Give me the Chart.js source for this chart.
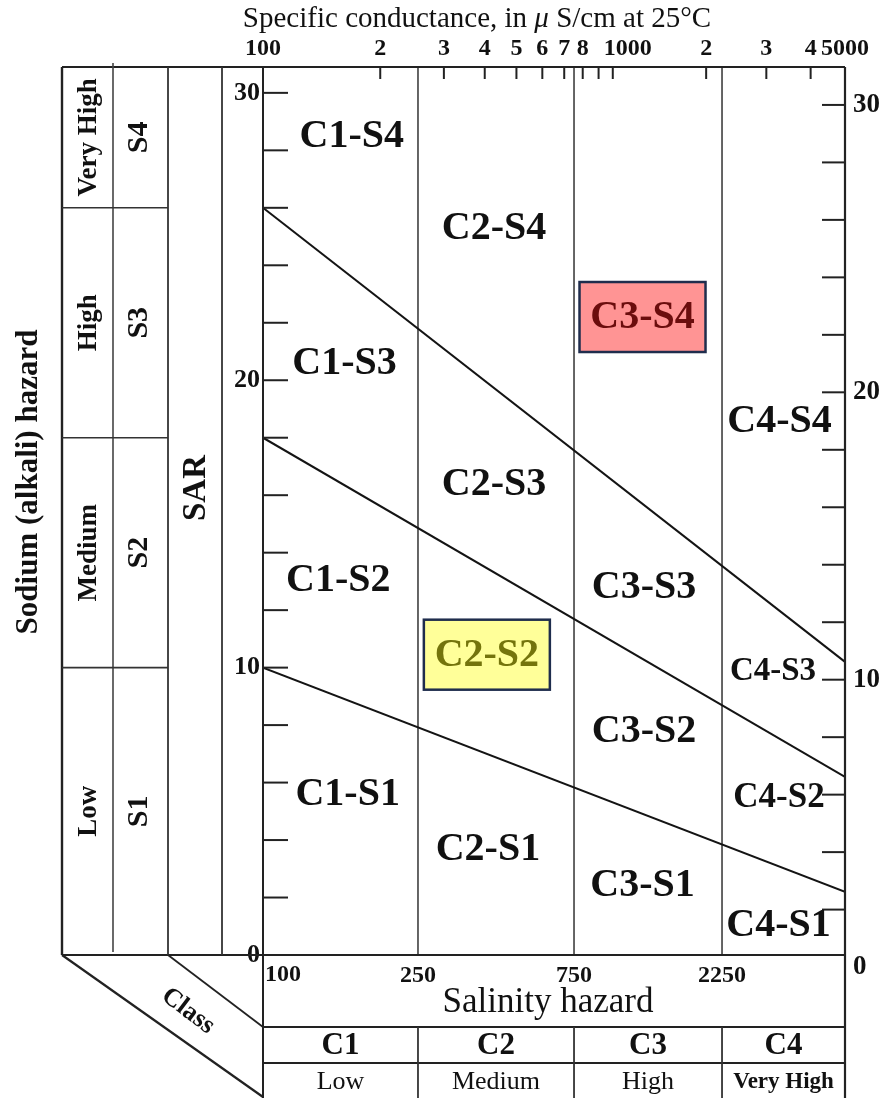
<!DOCTYPE html>
<html>
<head>
<meta charset="utf-8">
<title>Salinity / sodium hazard diagram</title>
<script src="https://cdn.jsdelivr.net/npm/chart.js@4.4.1/dist/chart.umd.min.js"></script>
<style>
  html, body { margin: 0; padding: 0; background: #fff; }
  canvas { display: block; }
</style>
</head>
<body>
<canvas id="wilcox" width="889" height="1098"></canvas>
<script>
// specific conductance ticks along the top edge (uS/cm at 25C)
const ecTicks = [100, 200, 300, 400, 500, 600, 700, 800, 900, 1000, 2000, 3000, 4000, 5000];
// the 1000 label sits a little right of its tick in the original, hence the padding
const ecTickLabels = ['100', '2', '3', '4', '5', '6', '7', '8', '', '\u00a0\u00a0\u00a0\u00a0\u00a01000', '2', '3', '4', '5000'];

// salinity classes, split at these conductances
const classLimits = [250, 750, 2250];
const salinityClasses = ['C1', 'C2', 'C3', 'C4'];
const salinityNames = ['Low', 'Medium', 'High', 'Very High'];

// sodium class boundaries, SAR at 100 and at 5000 uS/cm
const sarAt100 = [10, 18, 26];
const sarAt5000 = [2.2, 6.2, 10.2];
const sodiumClasses = ['S1', 'S2', 'S3', 'S4'];
const sodiumNames = ['Low', 'Medium', 'High', 'Very High'];

const sarTicks = [0, 2, 4, 6, 8, 10, 12, 14, 16, 18, 20, 22, 24, 26, 28, 30];

// zone names, placed at (conductance, SAR)
const zoneNames = ['C1-S4', 'C2-S4', 'C3-S4', 'C1-S3', 'C4-S4', 'C2-S3', 'C1-S2', 'C3-S3',
                   'C2-S2', 'C4-S3', 'C3-S2', 'C1-S1', 'C4-S2', 'C2-S1', 'C3-S1', 'C4-S1'];
const zoneEC  = [169, 427, 1247, 162, 3268, 427, 156, 1261, 406, 3133, 1261, 165, 3257, 409, 1247, 3246];
const zoneSAR = [28.5, 25.3, 22.2, 20.6, 18.6, 16.4, 13.05, 12.8, 10.45, 9.9, 7.8, 5.6, 5.5, 3.7, 2.45, 1.05];

const SERIF = '"Liberation Serif", "Times New Roman", serif';

// the printed conductance axis is not a clean log axis: each class
// column is log-spaced inside, the columns are nearly equal width
const knotFrac = [0, 0.2663, 0.5344, 0.7887, 1];

class SalinityScale extends Chart.LogarithmicScale {
  knots() { return [this.min].concat(classLimits, [this.max]); }
  getPixelForValue(value) {
    if (value === null || isNaN(value)) return NaN;
    const k = this.knots();
    const v = Math.min(Math.max(value, k[0]), k[k.length - 1]);
    let i = 0;
    while (i < k.length - 2 && v > k[i + 1]) i++;
    const t = Math.log(v / k[i]) / Math.log(k[i + 1] / k[i]);
    return this.getPixelForDecimal(knotFrac[i] + t * (knotFrac[i + 1] - knotFrac[i]));
  }
  getValueForPixel(pixel) {
    const k = this.knots();
    const d = this.getDecimalForPixel(pixel);
    let i = 0;
    while (i < knotFrac.length - 2 && d > knotFrac[i + 1]) i++;
    const t = (d - knotFrac[i]) / (knotFrac[i + 1] - knotFrac[i]);
    return k[i] * Math.pow(k[i + 1] / k[i], t);
  }
}
SalinityScale.id = 'salinity';
SalinityScale.defaults = Chart.LogarithmicScale.defaults;
Chart.register(SalinityScale);

const datasets = [];
for (let i = 0; i < sarAt100.length; i++) {
  datasets.push({
    data: [{ x: 100, y: sarAt100[i] }, { x: 5000, y: sarAt5000[i] }],
    borderColor: '#141414', borderWidth: 2, pointRadius: 0
  });
}
for (let i = 0; i < classLimits.length; i++) {
  datasets.push({
    data: [{ x: classLimits[i], y: 0 }, { x: classLimits[i], y: 30.9 }],
    borderColor: '#555', borderWidth: 1.8, pointRadius: 0
  });
}

function seg(ctx, x1, y1, x2, y2, w, c) {
  ctx.beginPath();
  ctx.lineWidth = w || 2;
  ctx.strokeStyle = c || '#222';
  ctx.moveTo(x1, y1);
  ctx.lineTo(x2, y2);
  ctx.stroke();
}

function text(ctx, s, x, y, font, align, rot) {
  ctx.save();
  ctx.translate(x, y);
  if (rot) ctx.rotate(rot);
  ctx.font = font;
  ctx.textAlign = align || 'center';
  ctx.textBaseline = 'middle';
  ctx.fillText(s, 0, 0);
  ctx.restore();
}

const diagram = {
  id: 'diagram',
  afterDatasetsDraw(chart) {
    const { ctx, chartArea: a, scales: { x, y, y2 } } = chart;
    ctx.save();

    // inward tick marks
    sarTicks.forEach(v => {
      if (v === 0) return;
      const yl = y.getPixelForValue(v);
      seg(ctx, a.left, yl, a.left + 25, yl, 2, '#222');
      const yr = y2.getPixelForValue(v);
      seg(ctx, a.right - 23, yr, a.right, yr, 2, '#222');
    });
    ecTicks.forEach(v => {
      if (v === 100 || v === 5000) return;
      const px = x.getPixelForValue(v);
      seg(ctx, px, a.top, px, a.top + 12, 2, '#222');
    });

    // zone names
    zoneNames.forEach((name, i) => {
      const px = x.getPixelForValue(zoneEC[i]);
      const py = y.getPixelForValue(zoneSAR[i]);
      let size = 40;
      if (name === 'C4-S3') size = 33;
      if (name === 'C4-S2') size = 35;
      ctx.fillStyle = '#111';
      if (name === 'C3-S4' || name === 'C2-S2') {
        ctx.fillStyle = name === 'C3-S4' ? '#ff9494' : '#ffff99';
        ctx.fillRect(px - 63, py - 35, 126, 70);
        ctx.lineWidth = 2.5;
        ctx.strokeStyle = '#1f2d4d';
        ctx.strokeRect(px - 63, py - 35, 126, 70);
        ctx.fillStyle = name === 'C3-S4' ? '#6b0d0d' : '#74740c';
      }
      text(ctx, name, px, py + 1, 'bold ' + size + 'px ' + SERIF);
    });
    ctx.restore();
  },
  afterDraw(chart) {
    const { ctx, chartArea: a, scales: { x, y } } = chart;
    const colX = [62, 113, 168, 222];
    const row1 = 1027, row2 = 1063, bottom = 1098;
    ctx.save();
    ctx.fillStyle = '#111';

    // frame of the plot and the sodium table
    seg(ctx, colX[0], a.top, a.right, a.top, 2.2);
    seg(ctx, colX[0], a.bottom, a.right, a.bottom, 2.2);
    seg(ctx, colX[0], a.top, colX[0], a.bottom, 2.4);
    seg(ctx, colX[1], a.top - 4, colX[1], a.bottom - 3, 1.6, '#444');
    seg(ctx, colX[2], a.top, colX[2], a.bottom, 1.8, '#333');
    seg(ctx, colX[3], a.top, colX[3], a.bottom, 1.8, '#333');
    seg(ctx, a.left, a.top, a.left, bottom, 2);
    seg(ctx, a.right, a.top, a.right, bottom, 2.2);

    // sodium bands
    const bands = [0].concat(sarAt100, [y.max]);
    sarAt100.forEach(v => {
      const py = y.getPixelForValue(v);
      seg(ctx, colX[0], py, colX[2], py, 1.6, '#333');
    });
    for (let i = 0; i < 4; i++) {
      const mid = (y.getPixelForValue(bands[i]) + y.getPixelForValue(bands[i + 1])) / 2;
      text(ctx, sodiumNames[i], 89, mid, 'bold 27px ' + SERIF, 'center', -Math.PI / 2);
      text(ctx, sodiumClasses[i], 139, mid, 'bold 30px ' + SERIF, 'center', -Math.PI / 2);
    }
    text(ctx, 'SAR', 196, 488, 'bold 33px ' + SERIF, 'center', -Math.PI / 2);
    text(ctx, 'Sodium (alkali) hazard', 29, 482, 'bold 31px ' + SERIF, 'center', -Math.PI / 2);

    // slanted "Class" strip
    seg(ctx, colX[0], a.bottom, a.left, bottom - 1, 2.2);
    seg(ctx, colX[2], a.bottom, a.left, row1, 1.8);
    text(ctx, 'Class', 188, 1011, 'bold 26px ' + SERIF, 'center', Math.atan2(72, 95));

    // salinity table under the plot
    seg(ctx, a.left, row1, a.right, row1, 2.2);
    seg(ctx, a.left, row2, a.right, row2, 2.2);
    const edges = [a.left].concat(classLimits.map(v => x.getPixelForValue(v)), [a.right]);
    classLimits.forEach(v => {
      const px = x.getPixelForValue(v);
      seg(ctx, px, row1, px, bottom, 1.8, '#333');
    });
    text(ctx, '100', a.left + 2, 975, 'bold 24px ' + SERIF, 'left');
    classLimits.forEach(v => text(ctx, String(v), x.getPixelForValue(v), 976, 'bold 24px ' + SERIF));
    text(ctx, 'Salinity hazard', 548, 1003, '35px ' + SERIF);
    for (let i = 0; i < 4; i++) {
      const cx = (edges[i] + edges[i + 1]) / 2;
      text(ctx, salinityClasses[i], cx, 1046, 'bold 31px ' + SERIF);
      if (i === 3) text(ctx, salinityNames[i], cx, 1082, 'bold 23px ' + SERIF);
      else text(ctx, salinityNames[i], cx, 1082, '26px ' + SERIF);
    }

    // title over the conductance axis, with an italic mu
    const parts = [['Specific conductance, in ', ''], ['\u03bc', 'italic '], [' S/cm at 25\u00b0C', '']];
    let w = 0;
    parts.forEach(p => { ctx.font = p[1] + '29px ' + SERIF; w += ctx.measureText(p[0]).width; });
    let tx = 477 - w / 2;
    parts.forEach(p => {
      ctx.font = p[1] + '29px ' + SERIF;
      ctx.textAlign = 'left';
      ctx.textBaseline = 'middle';
      ctx.fillText(p[0], tx, 19);
      tx += ctx.measureText(p[0]).width;
    });
    ctx.restore();
  }
};

const tickFont = size => ({ family: SERIF, size: size, weight: 'bold' });

new Chart(document.getElementById('wilcox'), {
  type: 'line',
  data: { datasets: datasets },
  options: {
    responsive: false,
    animation: false,
    events: [],
    layout: { padding: { left: 223, right: 0, top: 30, bottom: 143 } },
    plugins: { legend: { display: false }, tooltip: { enabled: false } },
    scales: {
      x: {
        type: 'salinity',
        position: 'top',
        min: 100,
        max: 5000,
        grid: { display: false, drawTicks: false },
        border: { display: false },
        afterBuildTicks: s => { s.ticks = ecTicks.map(v => ({ value: v })); },
        afterFit: s => { s.height = 37; },
        ticks: {
          autoSkip: false, maxRotation: 0, padding: 4, color: '#111', font: tickFont(24),
          callback: (v, i) => ecTickLabels[i]
        }
      },
      y: {
        type: 'linear',
        position: 'left',
        min: 0,
        max: 30.9,
        grid: { display: false, drawTicks: false },
        border: { display: false },
        afterBuildTicks: s => { s.ticks = sarTicks.map(v => ({ value: v })); },
        afterFit: s => { s.width = 40; },
        ticks: {
          autoSkip: false, padding: 3, color: '#111', font: tickFont(26),
          callback: v => (v % 10 === 0 ? String(v) : '')
        }
      },
      y2: {
        type: 'linear',
        position: 'right',
        min: 0.42,
        max: 31.32,
        grid: { display: false, drawTicks: false },
        border: { display: false },
        afterBuildTicks: s => { s.ticks = sarTicks.map(v => ({ value: v })); },
        afterFit: s => { s.width = 44; },
        ticks: {
          autoSkip: false, padding: 8, color: '#111', font: tickFont(27),
          callback: v => (v % 10 === 0 ? String(v) : '')
        }
      }
    }
  },
  plugins: [diagram]
});
</script>
</body>
</html>
